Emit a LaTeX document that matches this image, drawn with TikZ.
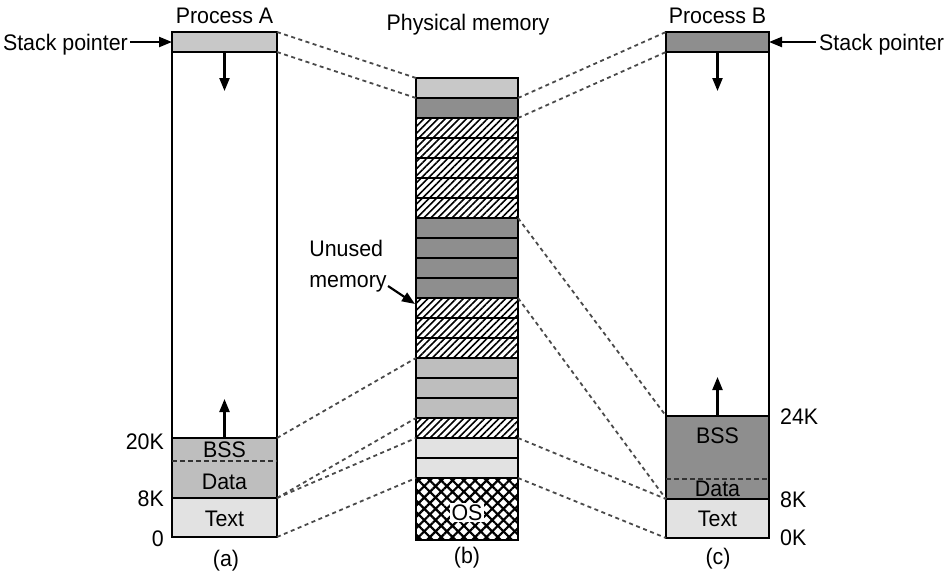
\documentclass[tikz,border=0pt]{standalone}
\usepackage{fontspec}
\setmainfont[FakeStretch=0.95]{Liberation Sans}
\usetikzlibrary{arrows.meta,patterns.meta}
\definecolor{cLight}{HTML}{C8C8C8}
\definecolor{cMid}{HTML}{BEBEBE}
\definecolor{cText}{HTML}{E2E2E2}
\definecolor{cDark}{HTML}{8E8E8E}
\definecolor{cDash}{HTML}{4A4A4A}
\begin{document}
\begin{tikzpicture}[x=1pt,y=-1pt,
  every node/.style={font=\fontsize{22.5}{31}\selectfont},
  region/.style={draw=black, line width=2.3pt, inner sep=0pt, outer sep=0pt},
  colA/.style={region, minimum width=105pt},
  colB/.style={region, minimum width=103pt},
  colP/.style={region, minimum width=102pt},
  lbl/.style={inner sep=0pt, text height=16pt, text depth=0pt},
  link/.style={draw=cDash, line width=1.8pt, dash pattern=on 4pt off 3.5pt},
  inner/.style={draw=black!80, line width=1.6pt, dash pattern=on 5pt off 3pt},
  arr/.style={line width=2.2pt, -{Triangle[length=13pt,width=10pt]}},
  hatchfill/.style={line width=2.3pt, pattern={Lines[angle=45,distance=5pt,line width=1.6pt]}},
  crossfill/.style={line width=2.3pt, pattern={Hatch[angle=45,distance=8pt,line width=2.2pt]}},
]
\useasboundingbox (0,0) rectangle (949,571);

% ---------- Process A ----------
\node[colA, fill=cLight, minimum height=20pt] (Astack) at (224.5,42) {};
\node[colA, fill=white, minimum height=386pt] (Afree) at (224.5,245) {};
\node[colA, fill=cMid, minimum height=60pt] (Adata) at (224.5,468) {};
\node[colA, fill=cText, minimum height=39pt] (Atext) at (224.5,517.5) {};
\draw[inner] (Adata.west |- 0,461) -- (Adata.east |- 0,461);

% ---------- Process B ----------
\node[colB, fill=cDark, minimum height=20pt] (Bstack) at (717.5,42) {};
\node[colB, fill=white, minimum height=364pt] (Bfree) at (717.5,234) {};
\node[colB, fill=cDark, minimum height=83pt] (Bdata) at (717.5,457.5) {};
\node[colB, fill=cText, minimum height=39pt] (Btext) at (717.5,518.5) {};
\draw[inner] (Bdata.west |- 0,479) -- (Bdata.east |- 0,479);

% ---------- Physical memory ----------
\foreach \i/\c in {1/cLight,2/cDark,3/white,4/white,5/white,6/white,7/white,
                   8/cDark,9/cDark,10/cDark,11/cDark,12/white,13/white,14/white,
                   15/cMid,16/cMid,17/cMid,18/white,19/cText,20/cText}
  \node[colP, fill=\c, minimum height=20pt] (pm\i) at (467,68+20*\i) {};
\foreach \i in {3,4,5,6,7,12,13,14,18}
  \draw[hatchfill] (pm\i.north west) rectangle (pm\i.south east);
\node[colP, fill=white, minimum height=62pt] (pmOS) at (467,509) {};
\draw[crossfill] (pmOS.north west) rectangle (pmOS.south east);
\node[fill=white, inner sep=1.5pt, text height=16pt, text depth=0pt] (os) at (467,512) {OS};

% ---------- titles ----------
\node[lbl] (tA) at (224.5,15) {Process A};
\node[lbl] (tP) at (468,22) {Physical memory};
\node[lbl] (tB) at (717.5,15) {Process B};
\node[lbl] (la) at (226,558) {(a)};
\node[lbl] (lb) at (467,555) {(b)};
\node[lbl] (lc) at (718,556) {(c)};

% ---------- labels inside ----------
\node[lbl] (aBSS) at (224.5,449) {BSS};
\node[lbl] (aData) at (224.5,481) {Data};
\node[lbl] (aText) at (224.5,518) {Text};
\node[lbl] (bBSS) at (717.5,435) {BSS};
\node[lbl] (bData) at (717.5,488) {Data};
\node[lbl] (bText) at (717.5,518) {Text};

% ---------- address labels ----------
\node[lbl, anchor=east] (a20) at (164,441) {20K};
\node[lbl, anchor=east] (a8) at (164,498) {8K};
\node[lbl, anchor=east] (a0) at (164,538) {0};
\node[lbl, anchor=west] (b24) at (780,416) {24K};
\node[lbl, anchor=west] (b8) at (780,499) {8K};
\node[lbl, anchor=west] (b0) at (780,537) {0K};

% ---------- growth arrows ----------
\coordinate (Adown) at (224.5,91);
\coordinate (Aup) at (224.5,399);
\coordinate (Bdown) at (717.5,91);
\coordinate (Bup) at (717.5,377);
\draw[arr] (Astack.south) -- (Adown);
\draw[arr] (Adata.north) -- (Aup);
\draw[arr] (Bstack.south) -- (Bdown);
\draw[arr] (Bdata.north) -- (Bup);

% ---------- stack pointers ----------
\node[lbl, anchor=east] (spA) at (128,42) {Stack pointer};
\node[lbl, anchor=west] (spB) at (819,42) {Stack pointer};
\draw[arr] ([xshift=2pt]spA.east) -- (Astack.west);
\draw[arr] ([xshift=-3pt]spB.west) -- (Bstack.east);

% ---------- unused memory ----------
\node[align=left, inner sep=0pt] (unused) at (348,266) {Unused\\memory};
\coordinate (uTail) at (388,286);
\coordinate (uTip) at (415,304);
\draw[arr] (uTail) -- (uTip);

% ---------- mapping connectors ----------
\draw[link] (Astack.north east) -- (pm1.north west);
\draw[link] (Astack.south east) -- (pm1.south west);
\draw[link] (Adata.north east) -- (pm15.north west);
\draw[link] (Adata.south east) -- (pm18.north west);
\draw[link] (Adata.south east) -- (pm19.north west);
\draw[link] (Atext.south east) -- (pmOS.north west);
\draw[link] (pm2.north east) -- (Bstack.north west);
\draw[link] (pm2.south east) -- (Bstack.south west);
\draw[link] (pm8.north east) -- (Bdata.north west);
\draw[link] (pm11.south east) -- (Bdata.south west);
\draw[link] (pm19.north east) -- (Bdata.south west);
\draw[link] (pm20.south east) -- (Btext.south west);
\end{tikzpicture}
\end{document}
